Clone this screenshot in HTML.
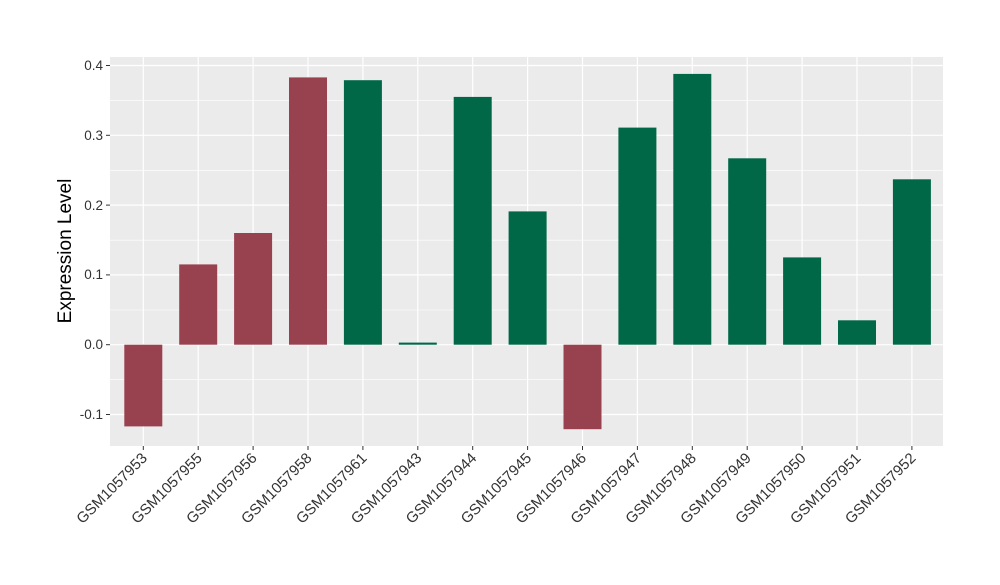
<!DOCTYPE html>
<html><head><style>body{margin:0;background:#fff}</style></head><body>
<svg width="1000" height="580" xmlns="http://www.w3.org/2000/svg" font-family="Liberation Sans, sans-serif">
<rect x="110" y="57" width="833" height="389" fill="#ebebeb"/>
<g stroke="#fff" stroke-width="0.6">
<line x1="110" x2="943" y1="100.6" y2="100.6"/><line x1="110" x2="943" y1="170.4" y2="170.4"/><line x1="110" x2="943" y1="240.2" y2="240.2"/><line x1="110" x2="943" y1="310" y2="310"/><line x1="110" x2="943" y1="379.6" y2="379.6"/>
</g>
<g stroke="#fff" stroke-width="1.2">
<line x1="110" x2="943" y1="65.5" y2="65.5"/><line x1="110" x2="943" y1="135.3" y2="135.3"/><line x1="110" x2="943" y1="205.1" y2="205.1"/><line x1="110" x2="943" y1="274.9" y2="274.9"/><line x1="110" x2="943" y1="344.7" y2="344.7"/><line x1="110" x2="943" y1="414.5" y2="414.5"/>
<line x1="143.3" x2="143.3" y1="57" y2="446"/><line x1="198.2" x2="198.2" y1="57" y2="446"/><line x1="253.1" x2="253.1" y1="57" y2="446"/><line x1="308" x2="308" y1="57" y2="446"/><line x1="362.9" x2="362.9" y1="57" y2="446"/><line x1="417.8" x2="417.8" y1="57" y2="446"/><line x1="472.7" x2="472.7" y1="57" y2="446"/><line x1="527.6" x2="527.6" y1="57" y2="446"/><line x1="582.5" x2="582.5" y1="57" y2="446"/><line x1="637.4" x2="637.4" y1="57" y2="446"/><line x1="692.3" x2="692.3" y1="57" y2="446"/><line x1="747.2" x2="747.2" y1="57" y2="446"/><line x1="802.1" x2="802.1" y1="57" y2="446"/><line x1="857" x2="857" y1="57" y2="446"/><line x1="911.9" x2="911.9" y1="57" y2="446"/>
</g>
<g>
<rect x="124.3" y="344.7" width="38" height="81.7" fill="#99424f"/>
<rect x="179.2" y="264.4" width="38" height="80.3" fill="#99424f"/>
<rect x="234.1" y="233" width="38" height="111.7" fill="#99424f"/>
<rect x="289" y="77.4" width="38" height="267.3" fill="#99424f"/>
<rect x="343.9" y="80.2" width="38" height="264.5" fill="#006847"/>
<rect x="398.8" y="342.6" width="38" height="2.1" fill="#006847"/>
<rect x="453.7" y="96.9" width="38" height="247.8" fill="#006847"/>
<rect x="508.6" y="211.4" width="38" height="133.3" fill="#006847"/>
<rect x="563.5" y="344.7" width="38" height="84.5" fill="#99424f"/>
<rect x="618.4" y="127.6" width="38" height="217.1" fill="#006847"/>
<rect x="673.3" y="73.9" width="38" height="270.8" fill="#006847"/>
<rect x="728.2" y="158.3" width="38" height="186.4" fill="#006847"/>
<rect x="783.1" y="257.4" width="38" height="87.3" fill="#006847"/>
<rect x="838" y="320.3" width="38" height="24.4" fill="#006847"/>
<rect x="892.9" y="179.3" width="38" height="165.4" fill="#006847"/>
</g>
<g font-size="13.5" fill="#333" text-anchor="end">
<text x="103" y="70">0.4</text><text x="103" y="140">0.3</text><text x="103" y="210">0.2</text><text x="103" y="279">0.1</text><text x="103" y="349">0.0</text><text x="103" y="419">-0.1</text>
</g>
<g stroke="#333" stroke-width="1"><line x1="106" x2="110" y1="65.5" y2="65.5"/><line x1="106" x2="110" y1="135.3" y2="135.3"/><line x1="106" x2="110" y1="205.1" y2="205.1"/><line x1="106" x2="110" y1="274.9" y2="274.9"/><line x1="106" x2="110" y1="344.7" y2="344.7"/><line x1="106" x2="110" y1="414.5" y2="414.5"/>
<line x1="143.3" x2="143.3" y1="446" y2="450"/><line x1="198.2" x2="198.2" y1="446" y2="450"/><line x1="253.1" x2="253.1" y1="446" y2="450"/><line x1="308" x2="308" y1="446" y2="450"/><line x1="362.9" x2="362.9" y1="446" y2="450"/><line x1="417.8" x2="417.8" y1="446" y2="450"/><line x1="472.7" x2="472.7" y1="446" y2="450"/><line x1="527.6" x2="527.6" y1="446" y2="450"/><line x1="582.5" x2="582.5" y1="446" y2="450"/><line x1="637.4" x2="637.4" y1="446" y2="450"/><line x1="692.3" x2="692.3" y1="446" y2="450"/><line x1="747.2" x2="747.2" y1="446" y2="450"/><line x1="802.1" x2="802.1" y1="446" y2="450"/><line x1="857" x2="857" y1="446" y2="450"/><line x1="911.9" x2="911.9" y1="446" y2="450"/>
</g>
<text transform="translate(71,251) rotate(-90)" text-anchor="middle" font-size="19" fill="#000">Expression Level</text>
<g font-size="15" fill="#333" text-anchor="end">
<text transform="translate(148,459) rotate(-45)">GSM1057953</text>
<text transform="translate(202.9,459) rotate(-45)">GSM1057955</text>
<text transform="translate(257.8,459) rotate(-45)">GSM1057956</text>
<text transform="translate(312.7,459) rotate(-45)">GSM1057958</text>
<text transform="translate(367.6,459) rotate(-45)">GSM1057961</text>
<text transform="translate(422.5,459) rotate(-45)">GSM1057943</text>
<text transform="translate(477.4,459) rotate(-45)">GSM1057944</text>
<text transform="translate(532.3,459) rotate(-45)">GSM1057945</text>
<text transform="translate(587.2,459) rotate(-45)">GSM1057946</text>
<text transform="translate(642.1,459) rotate(-45)">GSM1057947</text>
<text transform="translate(697,459) rotate(-45)">GSM1057948</text>
<text transform="translate(751.9,459) rotate(-45)">GSM1057949</text>
<text transform="translate(806.8,459) rotate(-45)">GSM1057950</text>
<text transform="translate(861.7,459) rotate(-45)">GSM1057951</text>
<text transform="translate(916.6,459) rotate(-45)">GSM1057952</text>
</g>
</svg>
</body></html>
